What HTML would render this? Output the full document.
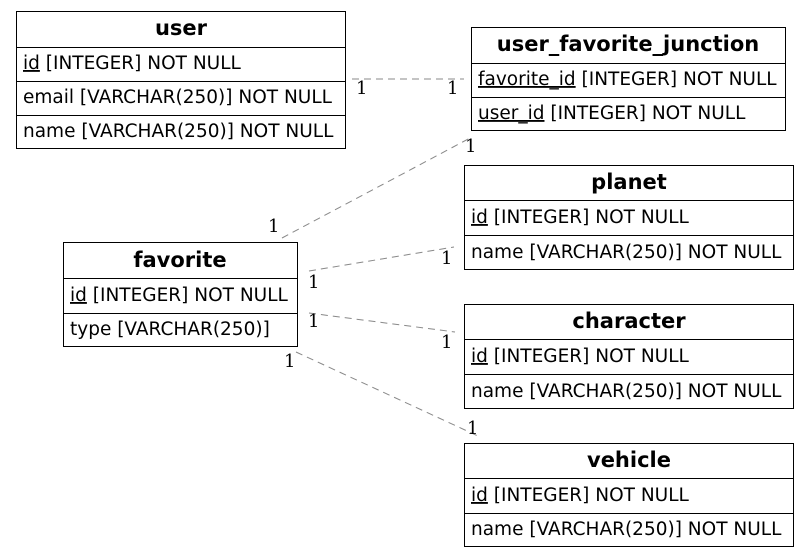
<!DOCTYPE html>
<html><head><meta charset="utf-8"><style>
html,body{margin:0;padding:0;background:#fff;width:809px;height:558px;overflow:hidden}
svg{display:block}
.t{font-family:"DejaVu Sans","Liberation Sans",sans-serif;font-size:18.5px;fill:#000}
.h{font-weight:bold;font-size:21px;text-anchor:middle}
.n{font-family:"DejaVu Serif","Liberation Serif",serif;font-size:18px;fill:#000}
.b{fill:#fff;stroke:#000;stroke-width:1}
.l{stroke:#000;stroke-width:1}
.c{stroke:#888;stroke-width:1;stroke-dasharray:7,5;fill:none}
.u{text-decoration:underline}
</style></head><body>
<svg width="809" height="558" viewBox="0 0 809 558" xmlns="http://www.w3.org/2000/svg">
<line class="c" x1="352" y1="79" x2="464" y2="79"/>
<line class="c" x1="282" y1="238" x2="472" y2="137"/>
<line class="c" x1="309" y1="271" x2="454" y2="247"/>
<line class="c" x1="309" y1="313" x2="455" y2="332"/>
<line class="c" x1="296" y1="352" x2="478" y2="436"/>
<g class="n">
<text x="356" y="94">1</text><text x="447" y="94">1</text>
<text x="268" y="232">1</text><text x="465" y="152">1</text>
<text x="308" y="288">1</text><text x="441" y="264">1</text>
<text x="308" y="327">1</text><text x="441" y="348">1</text>
<text x="284" y="367">1</text><text x="467" y="434">1</text>
</g>
<rect class="b" x="16.5" y="11.5" width="329" height="137"/>
<line class="l" x1="16" y1="47.5" x2="346" y2="47.5"/>
<line class="l" x1="16" y1="81.5" x2="346" y2="81.5"/>
<line class="l" x1="16" y1="115.5" x2="346" y2="115.5"/>
<text class="t h" x="181" y="35">user</text>
<text class="t" x="23" y="69"><tspan class="u">id</tspan> [INTEGER] NOT NULL</text>
<text class="t" x="23" y="103">email [VARCHAR(250)] NOT NULL</text>
<text class="t" x="23" y="137">name [VARCHAR(250)] NOT NULL</text>
<rect class="b" x="471.5" y="27.5" width="314" height="103"/>
<line class="l" x1="471" y1="63.5" x2="786" y2="63.5"/>
<line class="l" x1="471" y1="97.5" x2="786" y2="97.5"/>
<text class="t h" x="628" y="51">user_favorite_junction</text>
<text class="t" x="478" y="85"><tspan class="u">favorite_id</tspan> [INTEGER] NOT NULL</text>
<text class="t" x="478" y="119"><tspan class="u">user_id</tspan> [INTEGER] NOT NULL</text>
<rect class="b" x="464.5" y="165.5" width="329" height="104"/>
<line class="l" x1="464" y1="200.5" x2="794" y2="200.5"/>
<line class="l" x1="464" y1="235.5" x2="794" y2="235.5"/>
<text class="t h" x="629" y="189">planet</text>
<text class="t" x="471" y="223"><tspan class="u">id</tspan> [INTEGER] NOT NULL</text>
<text class="t" x="471" y="258">name [VARCHAR(250)] NOT NULL</text>
<rect class="b" x="464.5" y="304.5" width="329" height="104"/>
<line class="l" x1="464" y1="339.5" x2="794" y2="339.5"/>
<line class="l" x1="464" y1="374.5" x2="794" y2="374.5"/>
<text class="t h" x="629" y="328">character</text>
<text class="t" x="471" y="362"><tspan class="u">id</tspan> [INTEGER] NOT NULL</text>
<text class="t" x="471" y="397">name [VARCHAR(250)] NOT NULL</text>
<rect class="b" x="464.5" y="443.5" width="329" height="103"/>
<line class="l" x1="464" y1="478.5" x2="794" y2="478.5"/>
<line class="l" x1="464" y1="513.5" x2="794" y2="513.5"/>
<text class="t h" x="629" y="467">vehicle</text>
<text class="t" x="471" y="501"><tspan class="u">id</tspan> [INTEGER] NOT NULL</text>
<text class="t" x="471" y="535">name [VARCHAR(250)] NOT NULL</text>
<rect class="b" x="63.5" y="242.5" width="234" height="104"/>
<line class="l" x1="63" y1="278.5" x2="298" y2="278.5"/>
<line class="l" x1="63" y1="313.5" x2="298" y2="313.5"/>
<text class="t h" x="180" y="267">favorite</text>
<text class="t" x="70" y="301"><tspan class="u">id</tspan> [INTEGER] NOT NULL</text>
<text class="t" x="70" y="335">type [VARCHAR(250)]</text>
</svg>
</body></html>
